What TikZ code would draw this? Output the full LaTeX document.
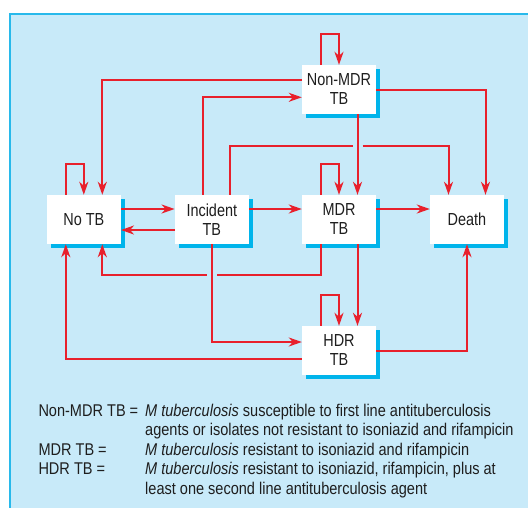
\documentclass[tikz,border=0pt]{standalone}
\usepackage{fontspec}
\setmainfont{Liberation Sans}[FakeStretch=0.83]
\newfontfamily\legendfont{Liberation Sans}[FakeStretch=0.855]
\usepackage{tikz}
\usetikzlibrary{arrows.meta,shadows}
\definecolor{panelbg}{RGB}{200,234,249}
\definecolor{panelline}{RGB}{40,185,235}
\definecolor{shadowc}{RGB}{0,180,235}
\definecolor{redc}{RGB}{232,32,44}
\definecolor{inkc}{RGB}{30,30,30}

\begin{document}
\begin{tikzpicture}[x=1pt,y=-1pt,>={Stealth[length=13pt,width=9pt,inset=4pt]},
  state/.style={fill=white,minimum width=74pt,minimum height=49pt,inner sep=0pt,align=center,
    font=\fontsize{17.4}{19}\selectfont,text=inkc,
    drop shadow={shadow xshift=4pt,shadow yshift=-4pt,fill=shadowc,opacity=1}},
  wire/.style={draw=redc,line width=2pt},
  legend/.style={anchor=base west,inner sep=0pt,font=\legendfont\fontsize{17}{19.6}\selectfont,text=inkc}]
\useasboundingbox (0,0) rectangle (528,507);
\fill[panelbg] (10,14) rectangle (540,520);
\draw[panelline,line width=2pt] (10,520) -- (10,14) -- (540,14);

\node[state] (nomdr) at (339,89.5) {Non-MDR\\TB};
\node[state] (notb) at (83.8,219.5) {No TB};
\node[state] (inc) at (211.8,219.5) {Incident\\TB};
\node[state] (mdr) at (339,219.5) {MDR\\TB};
\node[state] (death) at (467,219.5) {Death};
\node[state] (hdr) at (339,350.5) {HDR\\TB};
\coordinate (brgA) at (357.5,146.3);
\coordinate (brgB) at (211.8,274.7);

\draw[wire,->] ([xshift=-18.5pt]nomdr.north) -- ++(0,-31) -| (nomdr.north);
\draw[wire,->] ([xshift=-18pt]notb.north) -- ++(0,-31) -| (notb.north);
\draw[wire,->] ([xshift=-18.5pt]mdr.north) -- ++(0,-31) -| (mdr.north);
\draw[wire,->] ([xshift=-18.5pt]hdr.north) -- ++(0,-31) -| (hdr.north);
\draw[wire,->] ([yshift=9.5pt]nomdr.west) -| ([xshift=18.5pt]notb.north);
\draw[wire,->] ([xshift=-9pt]inc.north) |- ([yshift=-7.8pt]nomdr.west);
\draw[wire,->] (nomdr.east) -| ([xshift=18.5pt]death.north);
\draw[wire,->] ([xshift=18.5pt]nomdr.south) -- ([xshift=18.5pt]mdr.north);
\draw[wire] ([xshift=18pt]inc.north) |- ([xshift=-5pt]brgA);
\draw[wire,->] ([xshift=5pt]brgA) -| ([xshift=-18.5pt]death.north);
\draw[wire,->] ([yshift=10.5pt]notb.east) -- ([yshift=10.5pt]inc.west);
\draw[wire,->] ([yshift=-10.5pt]inc.west) -- ([yshift=-10.5pt]notb.east);
\draw[wire,->] ([yshift=10.5pt]inc.east) -- ([yshift=10.5pt]mdr.west);
\draw[wire,->] ([yshift=10.5pt]mdr.east) -- ([yshift=10.5pt]death.west);
\draw[wire] ([xshift=-18.5pt]mdr.south) |- ([xshift=5pt]brgB);
\draw[wire,->] ([xshift=-5pt]brgB) -| ([xshift=18.5pt]notb.south);
\draw[wire,->] (inc.south) |- ([yshift=8.5pt]hdr.west);
\draw[wire,->] ([xshift=18.5pt]mdr.south) -- ([xshift=18.5pt]hdr.north);
\draw[wire,->] ([yshift=-8pt]hdr.west) -| ([xshift=-18pt]notb.south);
\draw[wire,->] (hdr.east) -| (death.south);

\node[legend] (tnon) at (38.3,416) {Non-MDR TB =};
\node[legend] (dnon) at (145,416) {\textit{M tuberculosis} susceptible to first line antituberculosis};
\node[legend] (dnon2) at (145,435.6) {agents or isolates not resistant to isoniazid and rifampicin};
\node[legend] (tmdr) at (38.3,455.2) {MDR TB =};
\node[legend] (dmdr) at (145,455.2) {\textit{M tuberculosis} resistant to isoniazid and rifampicin};
\node[legend] (thdr) at (38.3,474.8) {HDR TB =};
\node[legend] (dhdr) at (145,474.8) {\textit{M tuberculosis} resistant to isoniazid, rifampicin, plus at};
\node[legend] (dhdr2) at (145,494.4) {least one second line antituberculosis agent};
\end{tikzpicture}
\end{document}
